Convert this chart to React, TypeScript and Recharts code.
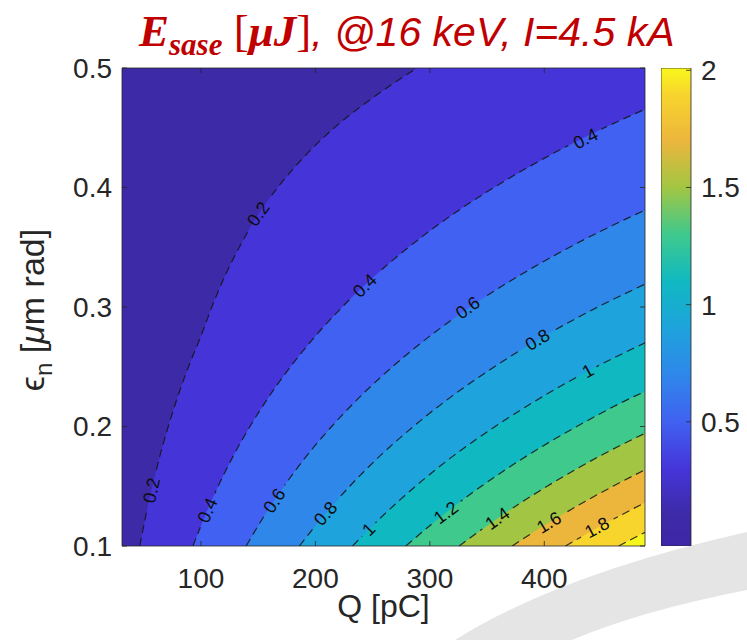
import React from 'react';
import {
  ComposedChart,
  Area,
  Line,
  Scatter,
  XAxis,
  YAxis,
  ReferenceLine,
  BarChart,
  Bar,
} from 'recharts';

// ---------- axis ranges & ticks ----------
const Q_DOMAIN: [number, number] = [31, 488];
const EPS_DOMAIN: [number, number] = [0.1, 0.5];
const Q_TICKS = [100, 200, 300, 400];
const EPS_TICKS = [0.1, 0.2, 0.3, 0.4, 0.5];
const CBAR_DOMAIN: [number, number] = [-0.03, 2.01];
const CBAR_TICKS = [0.5, 1, 1.5, 2];

// ---------- contour levels (E_sase, uJ) ----------
const LEVELS = [0.2, 0.4, 0.6, 0.8, 1, 1.2, 1.4, 1.6, 1.8, 2];

// ---------- contour curves: [Q (pC), eps_n (um rad)] ----------
const C_02 = [
  [46.5, 0.1], [51.7, 0.125], [57.5, 0.15], [64.0, 0.175], [71.4, 0.2], [79.7, 0.225],
  [89.1, 0.25], [99.7, 0.275], [109.5, 0.3], [120.5, 0.325], [133.5, 0.35], [148.5, 0.375],
  [167.0, 0.4], [189.5, 0.425], [216.5, 0.45], [250.0, 0.475], [288.8, 0.5],
];
const C_04 = [
  [93.0, 0.1], [103.4, 0.125], [115.0, 0.15], [128.0, 0.175], [142.8, 0.2], [159.4, 0.225],
  [178.2, 0.25], [199.4, 0.275], [223.4, 0.3], [250.6, 0.325], [281.4, 0.35], [316.2, 0.375],
  [356.0, 0.4], [401.0, 0.425], [452.4, 0.45], [488, 0.4655],
];
const C_06 = [
  [139.5, 0.1], [155.1, 0.125], [172.5, 0.15], [192.0, 0.175], [214.2, 0.2], [239.1, 0.225],
  [267.3, 0.25], [299.1, 0.275], [335.1, 0.3], [375.9, 0.325], [422.1, 0.35], [474.3, 0.375],
  [488, 0.381],
];
const C_08 = [
  [186.0, 0.1], [206.8, 0.125], [230.0, 0.15], [256.0, 0.175], [285.6, 0.2], [318.8, 0.225],
  [356.4, 0.25], [398.8, 0.275], [446.8, 0.3], [488, 0.3191],
];
const C_10 = [
  [232.5, 0.1], [258.5, 0.125], [287.5, 0.15], [320.0, 0.175], [357.0, 0.2], [398.5, 0.225],
  [445.5, 0.25], [488, 0.27],
];
const C_12 = [
  [279.0, 0.1], [310.2, 0.125], [345.0, 0.15], [384.0, 0.175], [428.4, 0.2], [478.2, 0.225],
  [488, 0.2293],
];
const C_14 = [[325.5, 0.1], [361.9, 0.125], [402.5, 0.15], [448.0, 0.175], [488, 0.1943]];
const C_16 = [[372.0, 0.1], [392.1, 0.1125], [413.6, 0.125], [436.0, 0.1375], [460.0, 0.15], [488, 0.1638]];
const C_18 = [[418.5, 0.1], [441.1, 0.1125], [465.3, 0.125], [488, 0.1363]];
const C_20 = [[465.0, 0.1], [488, 0.1115]];

const CONTOURS = [C_02, C_04, C_06, C_08, C_10, C_12, C_14, C_16, C_18, C_20];

// fill colours: below 0.2, 0.2-0.4, ..., 1.8-2.0, above 2.0
const BAND_COLORS = [
  '#3d2aa6', '#4535d9', '#4061f1', '#2f87ea', '#1ea3dc', '#10b9c1',
  '#3fc98d', '#a2c643', '#ecb63c', '#f8d52d', '#f6f51d',
];

// colour bar gradient stops, top (high value) to bottom: [value, colour]
const CBAR_STOPS: [number, string][] = [
  [2.01, '#f8f81c'], [1.9, '#f8d52d'], [1.7, '#ecb63c'], [1.5, '#a2c643'], [1.3, '#3fc98d'],
  [1.1, '#10b9c1'], [0.9, '#1ea3dc'], [0.7, '#2f87ea'], [0.5, '#4061f1'], [0.3, '#4535d9'],
  [0.1, '#3d2aa6'], [-0.03, '#3e26a8'],
];

// inline contour labels: level and a point on its curve
const CONTOUR_LABELS = [
  { level: 0.2, q: 56.7, e: 0.1466 },
  { level: 0.2, q: 150, e: 0.378 },
  { level: 0.4, q: 105.5, e: 0.13 },
  { level: 0.4, q: 243, e: 0.318 },
  { level: 0.4, q: 436, e: 0.441 },
  { level: 0.6, q: 164, e: 0.138 },
  { level: 0.6, q: 333, e: 0.2995 },
  { level: 0.8, q: 208.7, e: 0.1272 },
  { level: 0.8, q: 394, e: 0.2727 },
  { level: 1, q: 246.5, e: 0.114 },
  { level: 1, q: 438, e: 0.2465 },
  { level: 1.2, q: 314, e: 0.128 },
  { level: 1.4, q: 359, e: 0.1232 },
  { level: 1.6, q: 404, e: 0.1198 },
  { level: 1.8, q: 446, e: 0.1156 },
];

// ---------- layout ----------
const PLOT_L = 122;
const PLOT_T = 68;
const PLOT_W = 523;
const PLOT_H = 478;
const PLOT_R = PLOT_L + PLOT_W;
const PLOT_B = PLOT_T + PLOT_H;
const CHART_W = 660;
const CHART_H = 640;
const TICK_LEN = 5;
const AXIS_COLOR = '#262626';
const SANS = '"Liberation Sans", Arial, Helvetica, sans-serif';
const SERIF = '"Liberation Serif", "Times New Roman", serif';

const SX = PLOT_W / (Q_DOMAIN[1] - Q_DOMAIN[0]);
const SY = PLOT_H / (EPS_DOMAIN[1] - EPS_DOMAIN[0]);

const pts = (c: number[][]) => c.map(([q, e]) => ({ q, e }));

function labelAngle(level: number, q: number) {
  const c = CONTOURS[LEVELS.indexOf(level)];
  let i = 0;
  while (i < c.length - 2 && c[i + 1][0] < q) i++;
  const dx = (c[i + 1][0] - c[i][0]) * SX;
  const dy = (c[i + 1][1] - c[i][1]) * SY;
  return (-Math.atan2(dy, dx) * 180) / Math.PI;
}

const toPx = (q: number) => PLOT_L + (q - Q_DOMAIN[0]) * SX;
const toPy = (e: number) => PLOT_T + (EPS_DOMAIN[1] - e) * SY;

const XTick = (props: any) => {
  const { x, payload } = props;
  return (
    <g>
      <line x1={x} x2={x} y1={PLOT_B} y2={PLOT_B - TICK_LEN} stroke={AXIS_COLOR} strokeWidth={0.8} />
      <line x1={x} x2={x} y1={PLOT_T} y2={PLOT_T + TICK_LEN} stroke={AXIS_COLOR} strokeWidth={0.8} />
      <text x={x} y={PLOT_B + 22} dy="0.71em" textAnchor="middle" fontSize={28} fill={AXIS_COLOR} fontFamily={SANS}>
        {payload.value}
      </text>
    </g>
  );
};

const YTick = (props: any) => {
  const { y, payload } = props;
  return (
    <g>
      <line x1={PLOT_L} x2={PLOT_L + TICK_LEN} y1={y} y2={y} stroke={AXIS_COLOR} strokeWidth={0.8} />
      <line x1={PLOT_R} x2={PLOT_R - TICK_LEN} y1={y} y2={y} stroke={AXIS_COLOR} strokeWidth={0.8} />
      <text x={PLOT_L - 10} y={y} dy="0.355em" textAnchor="end" fontSize={28} fill={AXIS_COLOR} fontFamily={SANS}>
        {String(payload.value)}
      </text>
    </g>
  );
};

const CTick = (props: any) => {
  const { x, y, payload } = props;
  const edge = x - 10;
  return (
    <g>
      <line x1={edge} x2={edge - TICK_LEN} y1={y} y2={y} stroke={AXIS_COLOR} strokeWidth={0.8} />
      <text x={x} y={y} dy="0.355em" textAnchor="start" fontSize={28} fill={AXIS_COLOR} fontFamily={SANS}>
        {String(payload.value)}
      </text>
    </g>
  );
};

const LabelShape = (props: any) => {
  const { cx, cy, payload } = props;
  if (cx == null || cy == null) return <g />;
  const a = labelAngle(payload.level, payload.q);
  return (
    <text
      x={cx}
      y={cy}
      dy="0.35em"
      transform={`rotate(${a} ${cx} ${cy})`}
      textAnchor="middle"
      fontSize={18}
      fill="#0d0d0d"
      fontFamily={SANS}
    >
      {String(payload.level)}
    </text>
  );
};

const YLabel = () => (
  <text
    transform={`translate(44 ${(PLOT_T + PLOT_B) / 2 + 3}) rotate(-90)`}
    textAnchor="middle"
    fontSize={34}
    fill={AXIS_COLOR}
    fontFamily={SANS}
  >
    {'\u03F5'}
    <tspan fontSize={24} dy={8}>n</tspan>
    <tspan dy={-8}> [</tspan>
    <tspan fontStyle="italic">{'\u03BC'}</tspan>
    <tspan>m rad]</tspan>
  </text>
);

export default function App() {
  const cbarSpan = CBAR_DOMAIN[1] - CBAR_DOMAIN[0];
  return (
    <div
      style={{
        position: 'absolute',
        left: 0,
        top: 0,
        width: 747,
        height: 640,
        background: '#ffffff',
        overflow: 'hidden',
      }}
    >
      <style>{'.contour-line { mask: url(#gapMask); }'}</style>
      {/* defs: gradient + label gap mask */}
      <svg width={1} height={1} style={{ position: 'absolute', left: 0, top: 0 }}>
        <defs>
          <linearGradient id="parulaGrad" x1="0" y1="0" x2="0" y2="1">
            {CBAR_STOPS.map(([v, c], i) => (
              <stop key={i} offset={(CBAR_DOMAIN[1] - v) / cbarSpan} stopColor={c} />
            ))}
          </linearGradient>
          <mask id="gapMask" maskUnits="userSpaceOnUse" x={0} y={0} width={800} height={700}>
            <rect x={0} y={0} width={800} height={700} fill="white" />
            {CONTOUR_LABELS.map((l, i) => {
              const w = String(l.level).length * 9 + 10;
              return (
                <rect
                  key={i}
                  x={-w / 2}
                  y={-8}
                  width={w}
                  height={16}
                  fill="black"
                  transform={`translate(${toPx(l.q)} ${toPy(l.e)}) rotate(${labelAngle(l.level, l.q)})`}
                />
              );
            })}
          </mask>
        </defs>
      </svg>

      {/* slide background swoosh */}
      <svg width={747} height={640} style={{ position: 'absolute', left: 0, top: 0 }}>
        <path d="M 455 640 Q 560 574 747 532 L 747 590 Q 640 611 572 640 Z" fill="#e5e5e5" />
      </svg>

      {/* title */}
      <svg width={747} height={64} style={{ position: 'absolute', left: 0, top: 0 }}>
        <text x={139} y={46} fill="#c00000" fontSize={41}>
          <tspan fontFamily={SERIF} fontWeight="bold" fontStyle="italic" fontSize={45}>E</tspan>
          <tspan fontFamily={SERIF} fontWeight="bold" fontStyle="italic" fontSize={31} dy={9}>sase</tspan>
          <tspan fontFamily={SERIF} fontSize={45} dy={-9}> [</tspan>
          <tspan fontFamily={SERIF} fontWeight="bold" fontStyle="italic" fontSize={45}>{'\u03BC'}J</tspan>
          <tspan fontFamily={SERIF} fontSize={45}>]</tspan>
          <tspan fontFamily={SANS} fontStyle="italic">, @16 keV, I=4.5 kA</tspan>
        </text>
      </svg>

      {/* main contour chart */}
      <div style={{ position: 'absolute', left: 0, top: 0 }}>
        <ComposedChart
          width={CHART_W}
          height={CHART_H}
          margin={{ top: PLOT_T, right: CHART_W - PLOT_R, bottom: 0, left: 0 }}
        >
          <XAxis
            dataKey="q"
            type="number"
            domain={Q_DOMAIN}
            ticks={Q_TICKS}
            allowDataOverflow
            height={CHART_H - PLOT_B}
            tick={XTick}
            tickLine={false}
            tickSize={0}
            tickMargin={22}
            axisLine={{ stroke: AXIS_COLOR, strokeWidth: 0.8 }}
            label={{ value: 'Q [pC]', position: 'insideBottom', offset: 23, fontSize: 32, fill: AXIS_COLOR, fontFamily: SANS }}
          />
          <YAxis
            dataKey="e"
            type="number"
            domain={EPS_DOMAIN}
            ticks={EPS_TICKS}
            allowDataOverflow
            width={PLOT_L}
            tick={YTick}
            tickLine={false}
            tickSize={0}
            tickMargin={10}
            axisLine={{ stroke: AXIS_COLOR, strokeWidth: 0.8 }}
            label={{ content: () => <YLabel /> }}
          />

          {/* lowest band fills the whole plot */}
          <Area
            data={[
              { q: Q_DOMAIN[0], e: EPS_DOMAIN[1] },
              { q: Q_DOMAIN[1], e: EPS_DOMAIN[1] },
            ]}
            dataKey="e"
            type="linear"
            baseValue={EPS_DOMAIN[0]}
            fill={BAND_COLORS[0]}
            fillOpacity={1}
            stroke="none"
            dot={false}
            activeDot={false}
            isAnimationActive={false}
          />
          {CONTOURS.map((c, i) => {
            const last = c[c.length - 1];
            const reachesTop = last[1] >= EPS_DOMAIN[1];
            return (
              <React.Fragment key={`band${i}`}>
                <Area
                  data={pts(c)}
                  dataKey="e"
                  type="monotone"
                  baseValue={EPS_DOMAIN[0]}
                  fill={BAND_COLORS[i + 1]}
                  fillOpacity={1}
                  stroke="none"
                  dot={false}
                  activeDot={false}
                  isAnimationActive={false}
                />
                {reachesTop && (
                  <Area
                    data={[
                      { q: last[0], e: EPS_DOMAIN[1] },
                      { q: Q_DOMAIN[1], e: EPS_DOMAIN[1] },
                    ]}
                    dataKey="e"
                    type="linear"
                    baseValue={EPS_DOMAIN[0]}
                    fill={BAND_COLORS[i + 1]}
                    fillOpacity={1}
                    stroke="none"
                    dot={false}
                    activeDot={false}
                    isAnimationActive={false}
                  />
                )}
              </React.Fragment>
            );
          })}
          {CONTOURS.map((c, i) => (
            <Line
              key={`l${i}`}
              data={pts(c)}
              dataKey="e"
              type="monotone"
              stroke="#141414"
              strokeOpacity={0.85}
              strokeWidth={1.2}
              strokeDasharray="8 5"
              dot={false}
              activeDot={false}
              className="contour-line"
              isAnimationActive={false}
            />
          ))}
          <ReferenceLine y={EPS_DOMAIN[1]} stroke={AXIS_COLOR} strokeWidth={0.8} />
          <ReferenceLine x={Q_DOMAIN[1]} stroke={AXIS_COLOR} strokeWidth={0.8} />
          <Scatter data={CONTOUR_LABELS} dataKey="e" shape={LabelShape} isAnimationActive={false} />
        </ComposedChart>
      </div>

      {/* colour bar */}
      <div style={{ position: 'absolute', left: 661, top: 0 }}>
        <BarChart
          width={86}
          height={CHART_H}
          data={[{ name: 'E', range: CBAR_DOMAIN }]}
          margin={{ top: PLOT_T, right: 0, bottom: CHART_H - PLOT_B, left: 0 }}
          barCategoryGap={0}
        >
          <XAxis dataKey="name" hide />
          <YAxis
            type="number"
            orientation="right"
            domain={CBAR_DOMAIN}
            ticks={CBAR_TICKS}
            allowDataOverflow
            width={56}
            tick={CTick}
            tickLine={false}
            tickSize={0}
            tickMargin={10}
            axisLine={false}
          />
          <Bar dataKey="range" fill="url(#parulaGrad)" stroke={AXIS_COLOR} strokeWidth={0.8} isAnimationActive={false} />
        </BarChart>
      </div>
    </div>
  );
}
